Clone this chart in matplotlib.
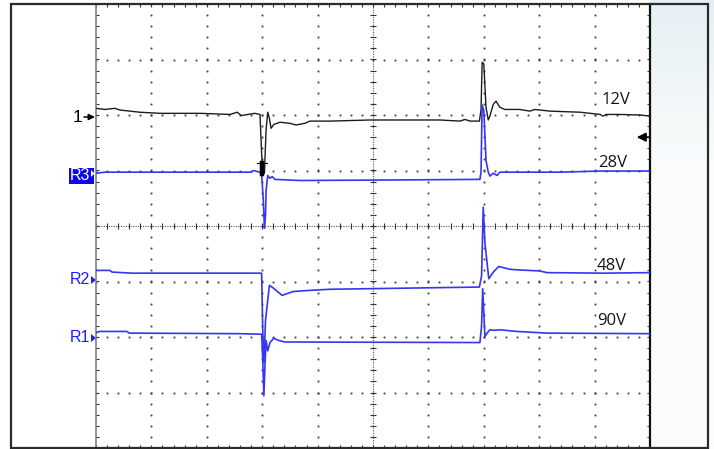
import numpy as np
import matplotlib
matplotlib.use('Agg')
import matplotlib.pyplot as plt
from matplotlib.patches import Rectangle, Polygon, FancyArrowPatch

W, H = 714, 449

# time in divisions (10 div across), level in divisions (-4 .. 4, 0 = centre)
ch1_t = [0, 0.16, 0.34, 0.43, 0.79, 1.16, 1.88, 2.42, 2.55, 2.62, 2.87, 2.96,
         2.99, 3.01, 3.04, 3.07, 3.10, 3.13, 3.16, 3.21, 3.32, 3.50, 3.61, 3.77,
         3.86, 4.22, 4.95, 5.49, 6.21, 6.57, 6.66, 6.75, 6.92, 6.95, 6.97, 7.00,
         7.04, 7.08, 7.11, 7.17, 7.22, 7.29, 7.38, 7.65, 7.83, 7.92, 8.19, 8.74,
         9.10, 9.15, 9.21, 9.46, 9.82, 10]
ch1_v = [2.12, 2.10, 2.12, 2.09, 2.05, 2.03, 2.03, 2.01, 2.05, 1.99, 2.03, 2.01,
         1.30, 0.98, 0.95, 1.73, 2.05, 1.94, 1.76, 1.83, 1.87, 1.85, 1.82, 1.85,
         1.89, 1.89, 1.91, 1.91, 1.91, 1.89, 1.92, 1.89, 1.89, 2.09, 2.95, 2.92,
         2.14, 1.91, 1.98, 2.19, 2.25, 2.14, 2.10, 2.10, 2.07, 2.10, 2.07, 2.05,
         2.01, 1.98, 2.01, 2.01, 2.00, 1.98]

r3_t = [0, 0.16, 2.80, 2.85, 2.95, 2.99, 3.02, 3.04, 3.06, 3.07, 3.10, 3.14,
        3.18, 3.23, 3.68, 5.49, 6.93, 6.95, 6.97, 7.00, 7.04, 7.08, 7.11, 7.17,
        7.24, 7.29, 7.47, 8.38, 9.10, 10]
r3_v = [0.95, 0.97, 0.97, 1.00, 0.97, 0.93, 0.46, -0.04, 0.20, 0.64, 0.91, 0.86,
        0.89, 0.84, 0.82, 0.83, 0.84, 0.97, 2.18, 2.08, 1.18, 0.97, 0.90, 0.95,
        0.91, 0.97, 0.97, 0.97, 0.99, 0.99]

r2_t = [0, 0.25, 0.29, 0.65, 2.99, 3.01, 3.03, 3.06, 3.13, 3.19, 3.36, 3.56,
        3.86, 4.22, 6.92, 6.96, 6.99, 7.02, 7.09, 7.18, 7.27, 7.47, 7.60, 8.01,
        8.14, 9.15, 10]
r2_v = [-0.80, -0.80, -0.83, -0.85, -0.85, -1.88, -2.46, -1.70, -1.07, -1.11,
        -1.25, -1.18, -1.16, -1.14, -1.10, -0.90, 0.34, -0.30, -0.95, -0.82,
        -0.73, -0.78, -0.79, -0.81, -0.84, -0.85, -0.84]

r1_t = [0, 0.07, 0.56, 0.60, 2.56, 2.99, 3.01, 3.03, 3.05, 3.07, 3.10, 3.14,
        3.21, 3.29, 3.41, 6.93, 6.96, 6.98, 7.02, 7.06, 7.11, 7.17, 7.29, 7.60,
        8.14, 9.95, 10]
r1_v = [-1.92, -1.90, -1.90, -1.93, -1.94, -1.95, -2.43, -3.06, -2.52, -2.06,
        -2.25, -2.10, -2.02, -2.06, -2.09, -2.10, -1.80, -1.13, -1.99, -1.93,
        -1.87, -1.88, -1.87, -1.90, -1.93, -1.94, -1.94]

volt_labels = ['12V', '28V', '48V', '90V']
trig_time = 3.0
trig_level = 1.6


def fx(p):
    return p / W


def fy(p):
    return 1 - p / H


fig = plt.figure(figsize=(7.14, 4.49), dpi=100)
fig.patch.set_facecolor('white')

# faint slide background on the right
bg = fig.add_axes([fx(651), 0, (W - 651) / W, 1], zorder=0)
g = np.clip(np.linspace(0, 1, 256) * 2.6, 0, 1)[:, None, None]
top = np.array([0.90, 0.94, 0.955])
img = top * (1 - g) + np.array([0.985, 0.99, 0.99]) * g
img = np.repeat(img, 8, axis=1)
bg.imshow(img, aspect='auto', extent=[0, 1, 0, 1])
bg.axis('off')

fig.add_artist(Rectangle((fx(11), fy(448)), (708 - 11) / W, 444 / H,
                         transform=fig.transFigure, fill=False,
                         ec='#2b2b2b', lw=1.6, zorder=5))

ax = fig.add_axes([fx(96), fy(448), (650 - 96) / W, 444 / H], zorder=2)
ax.set_xlim(0, 10)
ax.set_ylim(-4, 4)
ax.set_xticks([])
ax.set_yticks([])
ax.set_facecolor('white')
ax.spines['left'].set_color('#808080')
ax.spines['left'].set_linewidth(1.2)
ax.spines['top'].set_color('#222222')
ax.spines['top'].set_linewidth(1.4)
ax.spines['right'].set_color('#111111')
ax.spines['right'].set_linewidth(1.6)
ax.spines['bottom'].set_color('#222222')
ax.spines['bottom'].set_linewidth(1.4)

# graticule
mx = np.arange(0, 10.001, 0.2)
my = np.arange(-4, 4.001, 0.2)
for gx in [1, 2, 3, 4, 6, 7, 8, 9]:
    ax.plot(np.full_like(my, gx), my, ls='none', marker='s', ms=1.3,
            mew=0, color='#3a3a3a')
for gy in [-3, -2, -1, 1, 2, 3]:
    ax.plot(mx, np.full_like(mx, gy), ls='none', marker='s', ms=1.3,
            mew=0, color='#3a3a3a')
ax.axvline(5, color='#555555', lw=0.8, ls=(0, (1, 1.2)))
ax.axhline(0, color='#555555', lw=0.8, ls=(0, (1, 1.2)))
ax.plot(np.full_like(my, 5), my, ls='none', marker='_', ms=5, mew=0.8,
        color='#333333')
ax.plot(mx, np.zeros_like(mx), ls='none', marker='|', ms=5, mew=0.8,
        color='#333333')
for ex in [0, 10]:
    ax.plot(np.full_like(my, ex), my, ls='none', marker='_', ms=5, mew=0.8,
            color='#333333', clip_on=True)
for ey in [-4, 4]:
    ax.plot(mx, np.full_like(mx, ey), ls='none', marker='|', ms=5, mew=0.8,
            color='#333333', clip_on=True)

# traces
blue = '#3535f2'
ax.plot(ch1_t, ch1_v, color='#1c1c1c', lw=1.0, zorder=4)
ax.plot(r3_t, r3_v, color=blue, lw=1.2, zorder=4)
ax.plot(r2_t, r2_v, color=blue, lw=1.2, zorder=4)
ax.plot(r1_t, r1_v, color=blue, lw=1.2, zorder=4)

# trigger marker and trigger level arrow
ax.plot([trig_time - 0.09, trig_time + 0.09], [1.13, 1.13], color='k', lw=0.8, zorder=5)
ax.plot([trig_time, trig_time], [1.13, 0.93], color='k', lw=3.2, zorder=5)
ax.annotate('', xy=(9.76, trig_level), xytext=(10, trig_level),
            arrowprops=dict(arrowstyle='-|>', color='k', lw=1.3,
                            mutation_scale=13, shrinkA=0, shrinkB=0),
            annotation_clip=False, zorder=6)

# voltage labels
label_pos = [(9.13, 2.19), (9.06, 1.06), (9.04, -0.80), (9.04, -1.78)]
for s, (lx, ly) in zip(volt_labels, label_pos):
    ax.text(lx, ly, s, fontsize=12, family='Open Sans', color='#161616',
            va='baseline', ha='left', zorder=6)

# channel markers on the left
fig.text(fx(78), fy(117), '1', fontsize=12.5, family='Liberation Sans',
         color='black', ha='center', va='center')
fig.add_artist(FancyArrowPatch((fx(84), fy(117)), (fx(95), fy(117)),
                               transform=fig.transFigure, arrowstyle='-|>',
                               mutation_scale=9, lw=1.1, color='black',
                               shrinkA=0, shrinkB=0))

fig.add_artist(Rectangle((fx(69), fy(184)), 25 / W, 16 / H,
                         transform=fig.transFigure, fc='#0a0ae8', ec='none'))
fig.text(fx(80), fy(176), 'R3', fontsize=11.5, family='Liberation Sans',
         color='white', ha='center', va='center')
fig.add_artist(Polygon([(fx(91), fy(170)), (fx(91), fy(177)), (fx(94.5), fy(173.5))],
                       closed=True, transform=fig.transFigure, fc='white', ec='none'))

for name, yy in [('R2', 280), ('R1', 338)]:
    fig.text(fx(80), fy(yy), name, fontsize=11.5, family='Liberation Sans',
             color='#1d1dff', ha='center', va='center')
    fig.add_artist(Polygon([(fx(91), fy(yy - 4)), (fx(91), fy(yy + 4)),
                            (fx(96), fy(yy))], closed=True,
                           transform=fig.transFigure, fc='#1d1dff', ec='none'))

fig.savefig('out.png', dpi=100)
